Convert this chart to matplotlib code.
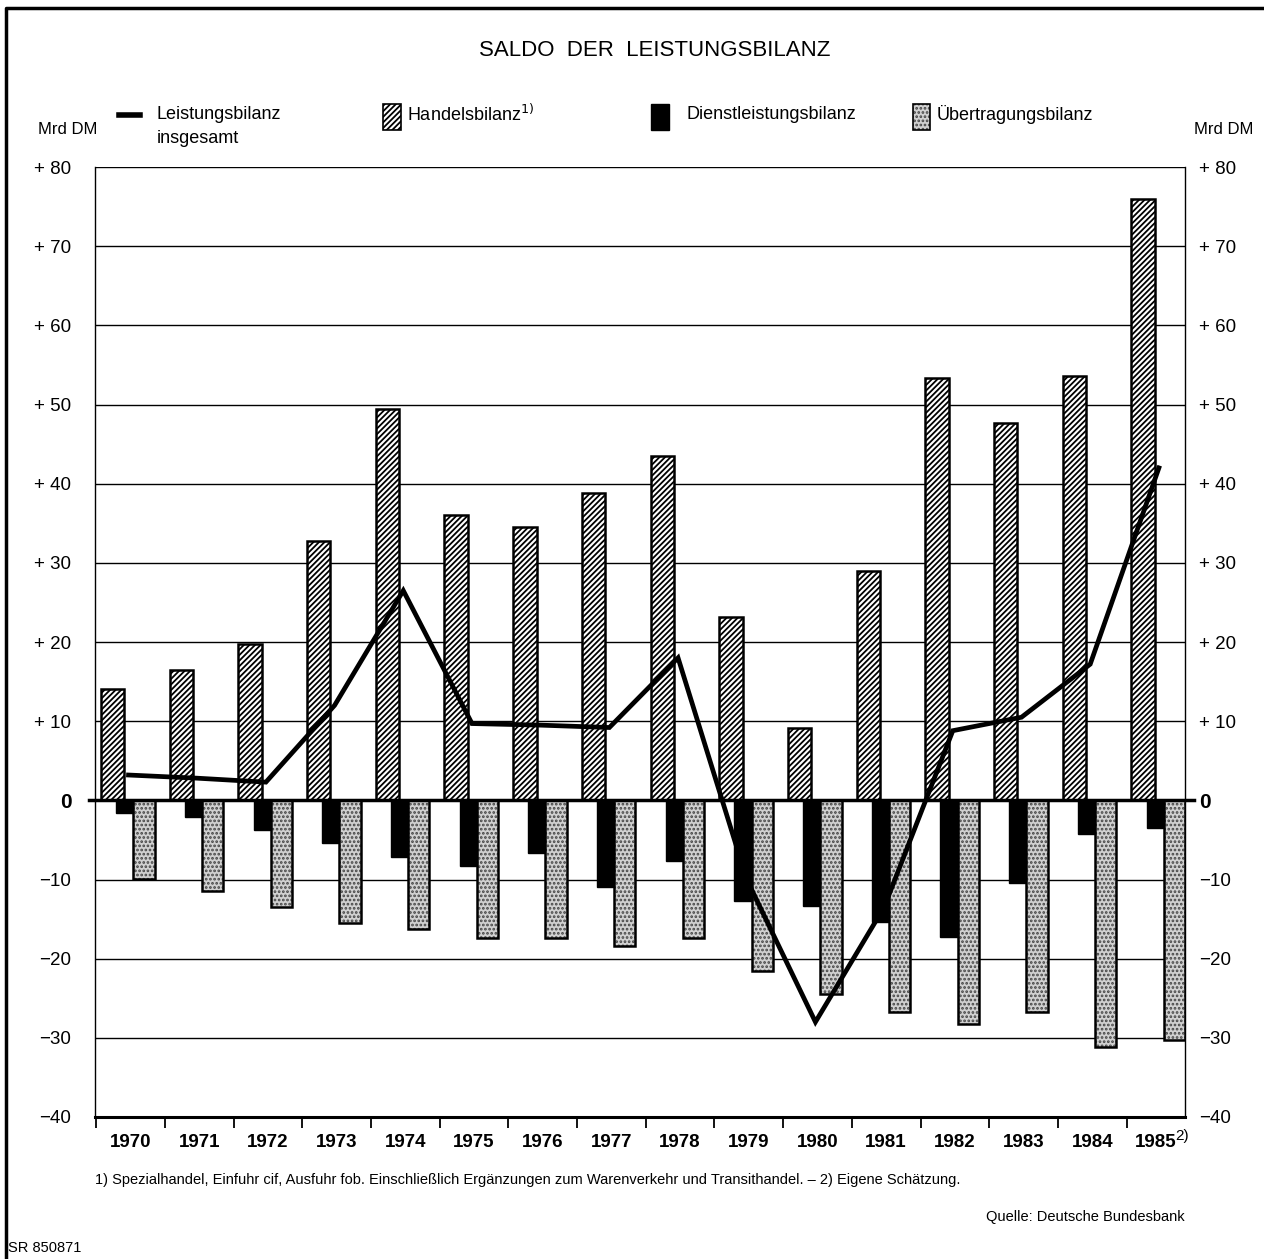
import numpy as np
import matplotlib
matplotlib.use("Agg")
import matplotlib.pyplot as plt
from matplotlib.patches import Rectangle
from matplotlib.lines import Line2D

plt.rcParams['font.family'] = ['Liberation Sans', 'DejaVu Sans']
plt.rcParams['hatch.linewidth'] = 1.3

# data (Mrd DM)
years = ['1970', '1971', '1972', '1973', '1974', '1975', '1976', '1977',
         '1978', '1979', '1980', '1981', '1982', '1983', '1984', '1985']
handel = [14.1, 16.5, 19.8, 32.8, 49.4, 36.1, 34.5, 38.8,
          43.5, 23.1, 9.2, 29.0, 53.4, 47.7, 53.6, 76.0]
dienst = [-1.6, -2.1, -3.8, -5.4, -7.1, -8.3, -6.7, -10.9,
          -7.6, -12.7, -13.3, -15.4, -17.2, -10.5, -4.2, -3.5]
uebertr = [-9.9, -11.5, -13.5, -15.5, -16.2, -17.4, -17.4, -18.4,
           -17.4, -21.6, -24.5, -26.8, -28.2, -26.8, -31.2, -30.3]
leistung = [3.2, 2.8, 2.3, 12.0, 26.5, 9.7, 9.5, 9.2,
            18.0, -10.0, -28.0, -13.5, 8.8, 10.5, 17.2, 42.0]
yticks = [80, 70, 60, 50, 40, 30, 20, 10, 0, -10, -20, -30, -40]

x = np.arange(len(years))
dot_face = '#d0d0d0'

fig = plt.figure(figsize=(12.64, 12.59), dpi=100)
ax = fig.add_axes([0.0752, 0.1128, 0.8623, 0.7545])

# bars
ax.bar(x + 0.22, dienst, width=0.33, align='edge', color='black',
       edgecolor='black', linewidth=1, zorder=3)
ax.bar(x + 0.47, uebertr, width=0.31, align='edge', color=dot_face,
       edgecolor='#444444', linewidth=0, hatch='....', zorder=4)
ax.bar(x + 0.47, uebertr, width=0.31, align='edge', fill=False,
       edgecolor='black', linewidth=1.8, zorder=4)
ax.bar(x, handel, width=0.34, align='edge', color='white',
       edgecolor='black', linewidth=1.8, hatch='//////', zorder=3)
ax.plot(x + 0.4, leistung, color='black', linewidth=3.4,
        solid_joinstyle='miter', zorder=6)

ax.set_xlim(-0.087, 15.78)
ax.set_ylim(-40, 80)

# grid
for v in yticks:
    if v == 0:
        ax.axhline(0, color='black', linewidth=2.5, zorder=5, xmin=-0.006,
                   xmax=1.008, clip_on=False)
    elif v != -40:
        ax.axhline(v, color='black', linewidth=1.0, zorder=1)

ax.spines['top'].set_visible(False)
ax.spines['left'].set_linewidth(1.0)
ax.spines['right'].set_linewidth(1.0)
ax.spines['bottom'].set_linewidth(2.2)

# y labels both sides
def ylab(v):
    if v > 0:
        return '+ %d' % v
    if v < 0:
        return '\u2212%d' % abs(v)
    return '0'

ax.set_yticks(yticks)
ax.set_yticklabels([ylab(v) for v in yticks], fontsize=13.5)
ax.tick_params(axis='y', length=0, pad=17)
ax2 = ax.twinx()
ax2.set_ylim(ax.get_ylim())
ax2.set_yticks(yticks)
ax2.set_yticklabels([ylab(v) for v in yticks], fontsize=13.5)
ax2.tick_params(axis='y', length=0, pad=10)
for s in ['top', 'left', 'bottom', 'right']:
    ax2.spines[s].set_visible(False)
for lab in ax.get_yticklabels() + ax2.get_yticklabels():
    if lab.get_text() == '0':
        lab.set_fontweight('bold')
        lab.set_fontsize(15)

# x ticks: marks at year boundaries, labels centred between them
bounds = list(x - 0.07) + [15.78]
ax.set_xticks(bounds[:-1])
ax.set_xticklabels([])
ax.tick_params(axis='x', which='major', direction='out', length=8, width=1.3)
centres = [(bounds[i] + bounds[i + 1]) / 2 for i in range(len(years))]
ax.set_xticks(centres, minor=True)
ax.set_xticklabels(years, minor=True, fontsize=13.5, fontweight='bold')
ax.tick_params(axis='x', which='minor', length=0, pad=12)
ax.text(centres[-1] + 0.29, -42.4, '2)', fontsize=11, ha='left', va='center',
        clip_on=False)

# title and legend
fig.text(0.518, 0.960, 'SALDO  DER  LEISTUNGSBILANZ', ha='center', va='center',
         fontsize=16)
fig.text(0.030, 0.897, 'Mrd DM', fontsize=12, va='center')
fig.text(0.945, 0.897, 'Mrd DM', fontsize=12, va='center')

fig.add_artist(Line2D([0.094, 0.111], [0.909, 0.909], color='black', linewidth=4))
fig.text(0.124, 0.909, 'Leistungsbilanz', fontsize=13, va='center')
fig.text(0.124, 0.890, 'insgesamt', fontsize=13, va='center')
fig.add_artist(Rectangle((0.303, 0.897), 0.014, 0.020, transform=fig.transFigure,
                         facecolor='white', edgecolor='black', hatch='//////',
                         linewidth=1.2))
fig.text(0.322, 0.909, 'Handelsbilanz$^{1)}$', fontsize=13, va='center')
fig.add_artist(Rectangle((0.515, 0.897), 0.014, 0.020, transform=fig.transFigure,
                         facecolor='black', edgecolor='black'))
fig.text(0.543, 0.909, 'Dienstleistungsbilanz', fontsize=13, va='center')
fig.add_artist(Rectangle((0.722, 0.897), 0.014, 0.020, transform=fig.transFigure,
                         facecolor=dot_face, edgecolor='#444444', hatch='....',
                         linewidth=0))
fig.add_artist(Rectangle((0.722, 0.897), 0.014, 0.020, transform=fig.transFigure,
                         fill=False, edgecolor='black', linewidth=1.2))
fig.text(0.741, 0.909, '\u00dcbertragungsbilanz', fontsize=13, va='center')

# footnotes
fig.text(0.075, 0.063, '1) Spezialhandel, Einfuhr cif, Ausfuhr fob. Einschlie\u00dflich '
         'Erg\u00e4nzungen zum Warenverkehr und Transithandel. \u2013 2) Eigene Sch\u00e4tzung.',
         fontsize=10.5, va='center')
fig.text(0.937, 0.033, 'Quelle: Deutsche Bundesbank', fontsize=10.5, va='center', ha='right')
fig.text(0.006, 0.009, 'SR 850871', fontsize=10.5, va='center')

# outer frame (left and top only)
fig.add_artist(Line2D([0.005, 0.005, 1.0], [0.0, 0.994, 0.994],
                      color='black', linewidth=2.5))

plt.savefig('out.png', dpi=100)
plt.close()
